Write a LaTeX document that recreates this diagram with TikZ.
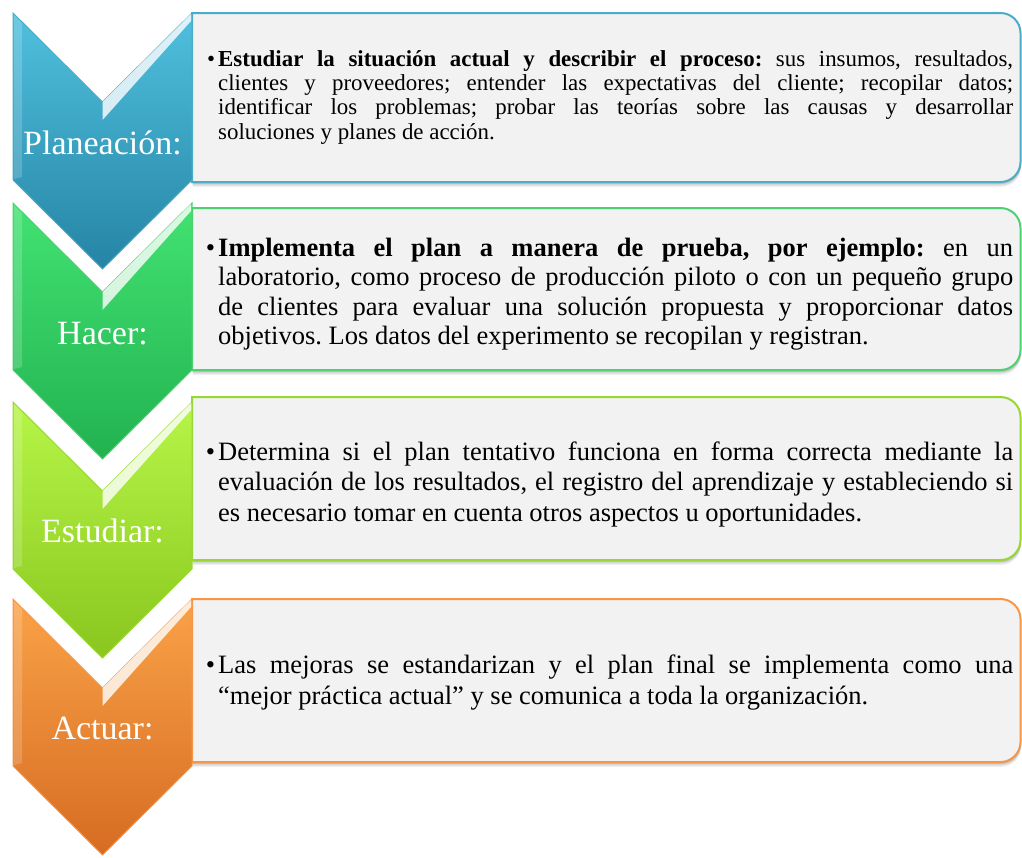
\documentclass[tikz,border=0pt]{standalone}
\usepackage{fontspec}
\setmainfont{Liberation Serif}
\definecolor{blueT}{RGB}{80,192,222}
\definecolor{blueB}{RGB}{38,132,165}
\definecolor{blueE}{RGB}{75,172,198}
\definecolor{greenT}{RGB}{66,226,114}
\definecolor{greenB}{RGB}{34,178,80}
\definecolor{greenE}{RGB}{76,210,112}
\definecolor{limeT}{RGB}{182,246,72}
\definecolor{limeB}{RGB}{138,198,30}
\definecolor{limeE}{RGB}{150,215,50}
\definecolor{orangeT}{RGB}{250,162,72}
\definecolor{orangeB}{RGB}{214,108,34}
\definecolor{orangeE}{RGB}{247,150,70}
\definecolor{boxfill}{RGB}{242,242,242}
\tikzset{
  bodytext/.style={anchor=base west, text width=795pt, align=justify, inner sep=0pt, text=black},
  chevlabel/.style={anchor=base, text=white, inner sep=0pt, font=\fontsize{34}{40}\selectfont},
}
% #1 top, #2 bottom, #3 border colour
\newcommand\mybox[3]{%
  \foreach \s/\o in {5/0.06,3.5/0.09,2/0.12}{%
    \fill[black,opacity=\o,shift={(0.5,\s)}] (192,#1) -- (1000.5,#1) .. controls (1011.5,#1) and (1020.5,#1+9) .. (1020.5,#1+20) -- (1020.5,#2-20) .. controls (1020.5,#2-9) and (1011.5,#2) .. (1000.5,#2) -- (192,#2) -- cycle;}
  \filldraw[fill=boxfill,draw=#3,line width=2pt] (192,#1) -- (1000.5,#1) .. controls (1011.5,#1) and (1020.5,#1+9) .. (1020.5,#1+20) -- (1020.5,#2-20) .. controls (1020.5,#2-9) and (1011.5,#2) .. (1000.5,#2) -- (192,#2) -- cycle;
}
% #1 top, #2 colour prefix
\newcommand\mychev[2]{%
  \shadedraw[top color=#2T, bottom color=#2B, draw=#2E, line width=1pt]
    (13,#1) -- (102.5,#1+89) -- (192,#1) -- (192,#1+167) -- (102.5,#1+256) -- (13,#1+167) -- cycle;
  \fill[white, opacity=.8] (102.5,#1+89) -- (191,#1+1) -- (191,#1+8) -- (102.5,#1+107) -- cycle;
  \fill[white, opacity=.18] (14,#1+2) -- (22,#1+10) -- (22,#1+164) -- (14,#1+166) -- cycle;
}
\hyphenpenalty=10000
\exhyphenpenalty=10000
\frenchspacing
\begin{document}
\frenchspacing
\begin{tikzpicture}[x=1pt,y=-1pt]
\fill[white] (0,0) rectangle (1022,857);
\useasboundingbox (0,0) rectangle (1022,857);

\mybox{13}{182}{blueE}
\mybox{208}{370}{greenE}
\mybox{397}{560}{limeE}
\mybox{599}{762}{orangeE}

\mychev{13}{blue}
\mychev{203}{green}
\mychev{402}{lime}
\mychev{599}{orange}

\node[chevlabel] (l1) at (102.5,154) {Planeación:};
\node[chevlabel] (l2) at (102.5,344) {Hacer:};
\node[chevlabel] (l3) at (102.5,542) {Estudiar:};
\node[chevlabel] (l4) at (102.5,739) {Actuar:};

\node[bodytext, font=\fontsize{22.9}{24.4}\selectfont] (t1) at (218,66)
 {\frenchspacing\llap{\textbullet\hspace{3pt}}\textbf{Estudiar la situación actual y describir el proceso:} sus insumos, resultados,\linebreak
 clientes y proveedores; entender las expectativas del cliente; recopilar datos;\linebreak
 identificar los problemas; probar las teorías sobre las causas y desarrollar\linebreak
 soluciones y planes de acción.};

\node[bodytext, font=\fontsize{26.5}{29.5}\selectfont] (t2) at (218,256)
 {\frenchspacing\llap{\textbullet\hspace{3pt}}\textbf{Implementa el plan a manera de prueba, por ejemplo:} en un\linebreak
 laboratorio, como proceso de producción piloto o con un pequeño grupo\linebreak
 de clientes para evaluar una solución propuesta y proporcionar datos\linebreak
 objetivos. Los datos del experimento se recopilan y registran.};

\node[bodytext, font=\fontsize{26.5}{30.5}\selectfont] (t3) at (218,460)
 {\frenchspacing\llap{\textbullet\hspace{3pt}}Determina si el plan tentativo funciona en forma correcta mediante la\linebreak
 evaluación de los resultados, el registro del aprendizaje y estableciendo si\linebreak
 es necesario tomar en cuenta otros aspectos u oportunidades.};

\node[bodytext, font=\fontsize{26.5}{31}\selectfont] (t4) at (218,673)
 {\frenchspacing\llap{\textbullet\hspace{3pt}}Las mejoras se estandarizan y el plan final se implementa como una\linebreak
 “mejor práctica actual” y se comunica a toda la organización.};
\end{tikzpicture}
\end{document}
